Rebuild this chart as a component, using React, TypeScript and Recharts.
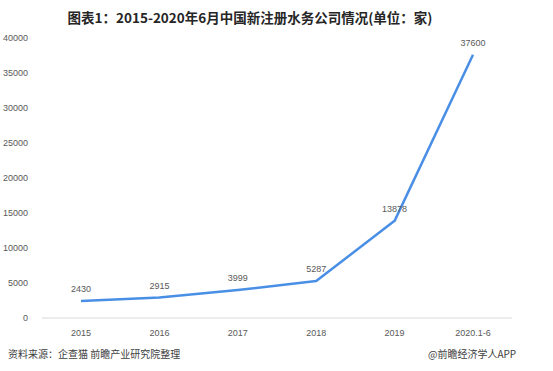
import { LineChart, Line, XAxis, YAxis, LabelList } from "recharts";

const years = ["2015", "2016", "2017", "2018", "2019", "2020.1-6"];
const companies = [2430, 2915, 3999, 5287, 13878, 37600];
const yTicks = [0, 5000, 10000, 15000, 20000, 25000, 30000, 35000, 40000];

const data = years.map((year, i) => ({ year, value: companies[i] }));

const tickStyle = { fontSize: 9, fill: "#595959", fontFamily: "Liberation Sans, Arial, sans-serif" };

export default function App() {
  return (
    <div style={{ position: "absolute", left: 0, top: 0, width: 553, height: 371, background: "#fff", fontFamily: "'Noto Sans CJK SC', sans-serif" }}>
      <div style={{ position: "absolute", top: 7, left: 0, width: 500, textAlign: "center", fontSize: 13.5, fontWeight: 700, color: "#262626", lineHeight: "20px" }}>
        图表1：2015-2020年6月中国新注册水务公司情况(单位：家)
      </div>
      <LineChart width={553} height={371} data={data} margin={{ top: 38, right: 41, bottom: 0, left: 0 }}>
        <XAxis
          dataKey="year"
          padding={{ left: 39, right: 39 }}
          tickLine={false}
          axisLine={{ stroke: "#d9d9d9" }}
          tick={tickStyle}
          height={53}
          tickMargin={6}
        />
        <YAxis
          ticks={yTicks}
          domain={[0, 40000]}
          width={42}
          tickLine={false}
          axisLine={false}
          tick={tickStyle}
          tickMargin={8}
          interval={0}
        />
        <Line
          type="linear"
          dataKey="value"
          stroke="#4a8fe6"
          strokeWidth={2.5}
          strokeLinejoin="round"
          dot={false}
          isAnimationActive={false}
        >
          <LabelList dataKey="value" position="top" offset={9} style={tickStyle} />
        </Line>
      </LineChart>
      <div style={{ position: "absolute", top: 346, left: 8, fontSize: 10, color: "#404040" }}>
        资料来源：企查猫 前瞻产业研究院整理
      </div>
      <div style={{ position: "absolute", top: 346, left: 428, fontSize: 10, color: "#404040" }}>
        @前瞻经济学人APP
      </div>
    </div>
  );
}
